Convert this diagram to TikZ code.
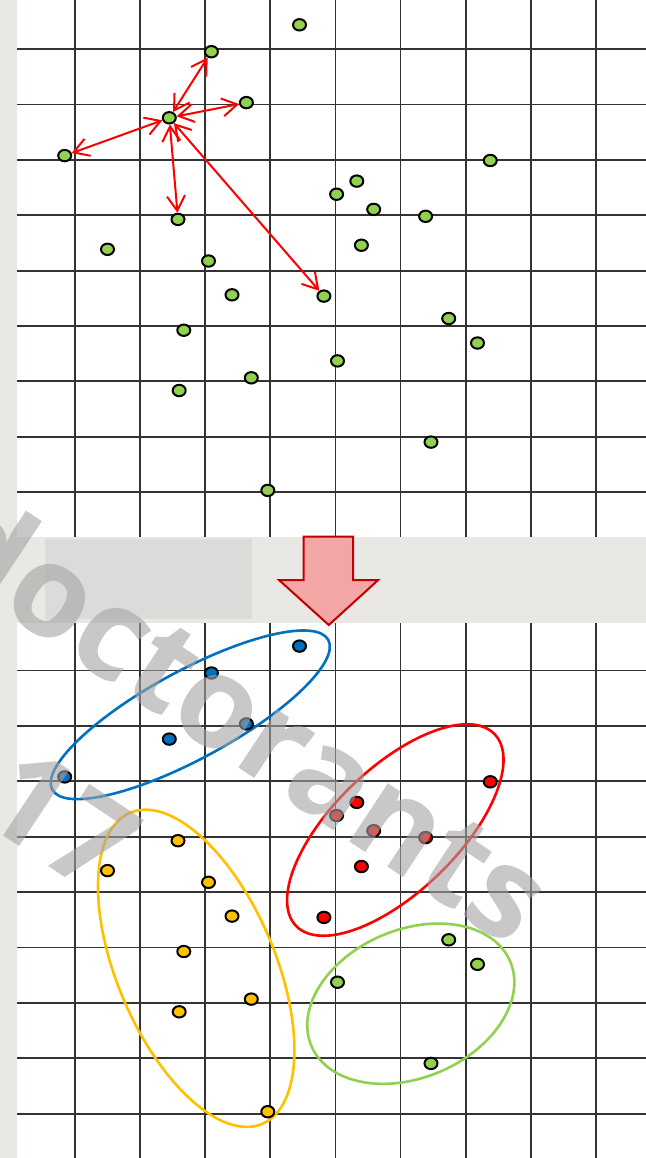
\documentclass[tikz,border=0pt]{standalone}
\usepackage{fontspec}
\newfontfamily\wmfont{Open Sans}
\usetikzlibrary{arrows.meta,shapes.geometric}

\definecolor{ptgreen}{RGB}{146,208,80}
\definecolor{ptblue}{RGB}{0,112,192}
\definecolor{ptred}{RGB}{255,0,0}
\definecolor{ptyellow}{RGB}{255,192,0}
\definecolor{darkred}{RGB}{192,0,0}
\definecolor{arrowpink}{RGB}{244,166,166}
\definecolor{paper}{RGB}{234,232,228}
\definecolor{paperdark}{RGB}{220,219,218}
\definecolor{wmgray}{RGB}{165,163,163}

\begin{document}
\begin{tikzpicture}[x=0.5pt, y=-0.5pt, >={Straight Barb[length=7.5pt,width=9pt]},
    datapt/.style={ellipse, draw=black, line width=1pt, minimum width=6.5pt, minimum height=5.7pt, inner sep=0pt},
    cluster/.style={ellipse, draw, line width=1.3pt, inner sep=0pt},
    gridline/.style={black!80, line width=0.9pt},
    watermark/.style={text=wmgray, text opacity=0.6, inner sep=0pt, font=\wmfont\bfseries\fontsize{64}{70}\selectfont}]
    \useasboundingbox (0,0) rectangle (646,1158);
    \clip (0,0) rectangle (646,1158);
    \fill[white] (0,0) rectangle (646,1158);

    % grid, top and bottom
    \foreach \gx in {0,...,8}
        \draw[gridline] (75+65.1*\gx,0) -- (75+65.1*\gx,1158);
    \foreach \gy in {0,...,8} {
        \draw[gridline] (17,49.2+55.35*\gy) -- (646,49.2+55.35*\gy);
        \draw[gridline] (17,670.5+55.4*\gy) -- (646,670.5+55.4*\gy);
    }
    \fill[paper] (0,0) rectangle (17,1158);
    \fill[paper] (0,537) rectangle (646,623);
    \fill[paperdark] (45,539) rectangle (252,619);

    % big arrow between the two panels
    \filldraw[fill=arrowpink, draw=darkred, line width=1pt, line join=miter]
        (303.7,536.7) -- (353.1,536.7) -- (353.1,580) -- (378.2,580)
        -- (328.8,625) -- (279,580) -- (303.7,580) -- cycle;

    % top panel
    \node[datapt, fill=ptgreen] (t1) at (299.5,24.8) {};
    \node[datapt, fill=ptgreen] (t2) at (211.4,51.7) {};
    \node[datapt, fill=ptgreen] (t3) at (246.4,102.6) {};
    \node[datapt, fill=ptgreen] (t4) at (169.3,117.8) {};
    \node[datapt, fill=ptgreen] (t5) at (64.7,155.6) {};
    \node[datapt, fill=ptgreen] (t6) at (490.3,160.5) {};
    \node[datapt, fill=ptgreen] (t7) at (356.8,181.1) {};
    \node[datapt, fill=ptgreen] (t8) at (336.6,194.2) {};
    \node[datapt, fill=ptgreen] (t9) at (373.7,209.4) {};
    \node[datapt, fill=ptgreen] (t10) at (425.6,216.3) {};
    \node[datapt, fill=ptgreen] (t11) at (178.0,219.4) {};
    \node[datapt, fill=ptgreen] (t12) at (361.4,245.2) {};
    \node[datapt, fill=ptgreen] (t13) at (107.5,249.3) {};
    \node[datapt, fill=ptgreen] (t14) at (208.5,261.0) {};
    \node[datapt, fill=ptgreen] (t15) at (232.0,294.8) {};
    \node[datapt, fill=ptgreen] (t16) at (323.9,296.1) {};
    \node[datapt, fill=ptgreen] (t17) at (448.7,318.5) {};
    \node[datapt, fill=ptgreen] (t18) at (183.8,330.2) {};
    \node[datapt, fill=ptgreen] (t19) at (477.5,343.0) {};
    \node[datapt, fill=ptgreen] (t20) at (337.5,360.9) {};
    \node[datapt, fill=ptgreen] (t21) at (251.3,377.8) {};
    \node[datapt, fill=ptgreen] (t22) at (179.2,390.5) {};
    \node[datapt, fill=ptgreen] (t23) at (431.0,442.1) {};
    \node[datapt, fill=ptgreen] (t24) at (267.8,490.4) {};
    \path[<->, ptred, line width=1pt]
        (t4) edge (t2)
        (t4) edge (t3)
        (t4) edge (t5)
        (t4) edge (t11)
        (t4) edge (t16);

    % bottom panel: clusters
    \node[cluster, draw=ptblue, minimum width=157pt, minimum height=44pt, rotate=28.5] (blueset) at (190.3,714.8) {};
    \node[cluster, draw=ptred, minimum width=138pt, minimum height=62pt, rotate=44] (redset) at (395.3,830) {};
    \node[cluster, draw=ptyellow, minimum width=169pt, minimum height=79pt, rotate=113] (yellowset) at (196.2,968.3) {};
    \node[cluster, draw=ptgreen, minimum width=108pt, minimum height=74pt, rotate=23] (greenset) at (410.8,1003.7) {};

    \node[datapt, fill=ptblue] (b1) at (299.5,646.1) {};
    \node[datapt, fill=ptblue] (b2) at (211.4,673.0) {};
    \node[datapt, fill=ptblue] (b3) at (246.4,723.9) {};
    \node[datapt, fill=ptblue] (b4) at (169.3,739.1) {};
    \node[datapt, fill=ptblue] (b5) at (64.7,776.9) {};
    \node[datapt, fill=ptred] (r6) at (490.3,781.8) {};
    \node[datapt, fill=ptred] (r7) at (356.8,802.4) {};
    \node[datapt, fill=ptred] (r8) at (336.6,815.5) {};
    \node[datapt, fill=ptred] (r9) at (373.7,830.7) {};
    \node[datapt, fill=ptred] (r10) at (425.6,837.6) {};
    \node[datapt, fill=ptred] (r12) at (361.4,866.5) {};
    \node[datapt, fill=ptred] (r16) at (323.9,917.4) {};
    \node[datapt, fill=ptyellow] (y11) at (178.0,840.7) {};
    \node[datapt, fill=ptyellow] (y13) at (107.5,870.6) {};
    \node[datapt, fill=ptyellow] (y14) at (208.5,882.3) {};
    \node[datapt, fill=ptyellow] (y15) at (232.0,916.1) {};
    \node[datapt, fill=ptyellow] (y18) at (183.8,951.5) {};
    \node[datapt, fill=ptyellow] (y21) at (251.3,999.1) {};
    \node[datapt, fill=ptyellow] (y22) at (179.2,1011.8) {};
    \node[datapt, fill=ptyellow] (y24) at (267.8,1111.7) {};
    \node[datapt, fill=ptgreen] (g17) at (448.7,939.8) {};
    \node[datapt, fill=ptgreen] (g19) at (477.5,964.3) {};
    \node[datapt, fill=ptgreen] (g20) at (337.5,982.2) {};
    \node[datapt, fill=ptgreen] (g23) at (431.0,1063.4) {};

    % watermark on top
    \node[watermark, rotate=-33.5] (wmword) at (247,716) {doctorants};
    \node[watermark, rotate=-33.5] (wmyear) at (62,820) {17};
\end{tikzpicture}
\end{document}
